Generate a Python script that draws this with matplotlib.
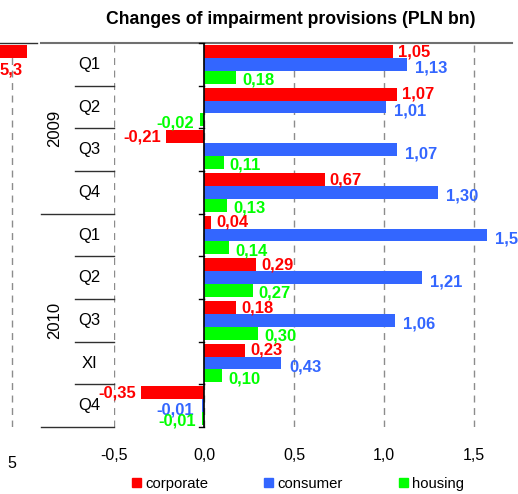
import numpy as np
import matplotlib
matplotlib.use('Agg')
import matplotlib.pyplot as plt
from matplotlib.patches import Patch

plt.rcParams['font.family'] = ['Liberation Sans', 'DejaVu Sans']

# quarterly changes of impairment provisions, PLN bn
years = ['2009', '2010']
year_groups = [(0, 4), (4, 9)]
periods = ['Q1', 'Q2', 'Q3', 'Q4', 'Q1', 'Q2', 'Q3', 'XI', 'Q4']
corporate = [1.05, 1.07, -0.21, 0.67, 0.04, 0.29, 0.18, 0.23, -0.35]
consumer = [1.13, 1.01, 1.07, 1.30, 1.57, 1.21, 1.06, 0.43, -0.01]
housing = [0.18, -0.02, 0.11, 0.13, 0.14, 0.27, 0.30, 0.10, -0.01]
series_names = ['corporate', 'consumer', 'housing']
x_ticks = [-0.5, 0.0, 0.5, 1.0, 1.5]

# the neighbouring panel on the left, only its right edge shows
side_value = 5.3
side_tick = 5

RED, BLUE, GREEN = '#ff0000', '#3366ff', '#00ff00'
W, H = 518, 494


def box(left, top, right, bottom):
    return [left / W, 1 - bottom / H, (right - left) / W, (bottom - top) / H]


def fmt(v, nd=2):
    return f'{v:.{nd}f}'.replace('.', ',')


fig = plt.figure(figsize=(W / 100, H / 100), dpi=100)
ax = fig.add_axes(box(114, 43, 512, 427))
side = fig.add_axes(box(0, 43, 37, 427))

y = np.arange(len(periods))
series = [corporate, consumer, housing]
colors = [RED, BLUE, GREEN]
offsets = [-0.3, 0.0, 0.3]
label_dx = [5, 8, 6]
label_dy = [0, 4, 3]

for vals, col, off, dx, dy in zip(series, colors, offsets, label_dx, label_dy):
    ax.barh(y + off, vals, height=0.3, color=col, zorder=2)
    for yi, v in zip(y, vals):
        s = 1 if v >= 0 else -1
        ax.annotate(fmt(v), (v, yi + off), xytext=(s * dx, -dy),
                    textcoords='offset pixels', ha='left' if v >= 0 else 'right',
                    va='center', color=col, fontsize=12, fontweight='bold')

ax.set_xlim(-0.5, 1.711)
ax.set_ylim(len(periods) - 0.5, -0.5)
ax.set_axisbelow(True)
ax.set_xticks(x_ticks)
ax.set_xticklabels([fmt(t, 1) for t in x_ticks])
ax.set_yticks([])
ax.tick_params(axis='x', length=0, pad=15, labelsize=11.5)
ax.grid(axis='x', linestyle=(0, (5, 4)), color='#8c8c8c', lw=1)
for sp in ['left', 'right', 'bottom']:
    ax.spines[sp].set_visible(False)
ax.spines['top'].set_color('#707070')
ax.spines['top'].set_linewidth(1.5)
ax.axvline(0, color='black', lw=1.2, zorder=3)

# category ticks on the zero line
for b in np.arange(-0.5, len(periods), 1):
    ax.plot([-0.028, 0], [b, b], color='black', lw=1, clip_on=False, zorder=3)

# two-level category labels to the left of the plot
trans = ax.get_yaxis_transform()


def xa(px):
    return (px - 114) / 398


year_edges = {g[0] - 0.5 for g in year_groups} | {g[1] - 0.5 for g in year_groups}
for b in np.arange(-0.5, len(periods), 1):
    if b == -0.5:
        ax.plot([xa(41), 0], [b, b], color='#707070', lw=1.5, transform=trans, clip_on=False)
    elif b in year_edges:
        ax.plot([xa(41), 0], [b, b], color='#303030', lw=1, transform=trans, clip_on=False)
    else:
        ax.plot([xa(75), 0], [b, b], color='#303030', lw=1, transform=trans, clip_on=False)

for yi, p in zip(y, periods):
    ax.text(xa(89), yi, p, transform=trans, ha='center', va='center', fontsize=12)
for yr, (a, b) in zip(years, year_groups):
    ax.text(xa(55), (a + b - 1) / 2, yr, transform=trans, ha='center', va='center',
            rotation=90, fontsize=12)

# neighbouring panel edge
side.barh(-0.3, side_value, height=0.3, color=RED, zorder=2)
side.annotate(fmt(side_value, 1), (side_value, -0.3), xytext=(-4, -18),
              textcoords='offset pixels', ha='right', va='center', color=RED,
              fontsize=12, fontweight='bold')
side.set_xlim(4.76, 5.5)
side.set_ylim(len(periods) - 0.5, -0.5)
side.set_axisbelow(True)
side.set_xticks([side_tick])
side.set_xticklabels([str(side_tick)])
side.set_yticks([])
side.tick_params(axis='x', length=0, pad=21, labelsize=11.5)
side.grid(axis='x', linestyle=(0, (5, 4)), color='#8c8c8c', lw=1)
for sp in ['left', 'right', 'bottom']:
    side.spines[sp].set_visible(False)
side.spines['top'].set_color('#303030')
side.spines['top'].set_linewidth(1)

fig.text(291 / W, 1 - 20 / H, 'Changes of impairment provisions (PLN bn)',
         ha='center', va='center', fontweight='bold', fontsize=12.7)

handles = [Patch(color=c) for c in colors]
fig.legend(handles, series_names, ncol=3, loc='center',
           bbox_to_anchor=(298 / W, 1 - 484 / H), frameon=False, fontsize=10.7,
           handlelength=0.6, handleheight=0.6, handletextpad=0.25,
           columnspacing=3.8, borderpad=0)

fig.savefig('out.png', dpi=100)
